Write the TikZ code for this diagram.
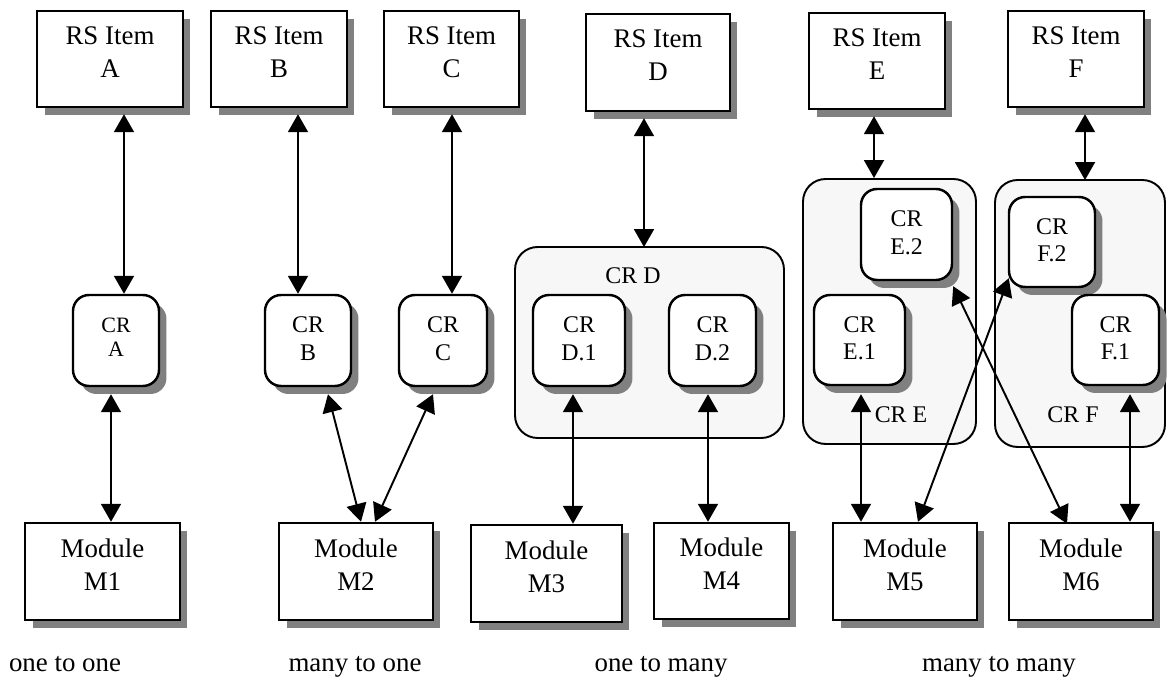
\documentclass[tikz,border=0pt]{standalone}
\usepackage{fontspec}
\setmainfont{Liberation Serif}
\definecolor{shadowgray}{RGB}{128,128,128}
\definecolor{groupfill}{RGB}{247,247,247}
\usetikzlibrary{
    arrows.meta,
    calc,
    shadows
}

\begin{document}
\begin{tikzpicture}[x=0.02cm, y=-0.02cm,
    boxshadow/.style={drop shadow={shadow xshift=0.15cm, shadow yshift=-0.16cm, fill=shadowgray, opacity=1}},
    rsbox/.style={draw, line width=1.4pt, fill=white, boxshadow, align=center, inner sep=1pt,
        minimum height=1.92cm, text depth=0.28cm, font=\fontsize{15.3}{18.7}\selectfont},
    crbox/.style={draw, line width=1.4pt, fill=white, rounded corners=0.32cm, boxshadow, align=center,
        inner sep=1pt, minimum height=1.82cm, text depth=0.08cm, font=\fontsize{13.6}{15.6}\selectfont},
    crgroup/.style={draw, line width=1.1pt, fill=groupfill, rounded corners=0.45cm, inner sep=0pt},
    grouplabel/.style={inner sep=0pt, font=\fontsize{13.6}{15.6}\selectfont},
    link/.style={line width=1.1pt, {Triangle[length=0.36cm,width=0.4cm]}-{Triangle[length=0.36cm,width=0.4cm]}},
    caption/.style={anchor=base, inner sep=0pt, font=\fontsize{15.3}{18.7}\selectfont}
]
    \useasboundingbox (0,0) rectangle (1167,678);

    % CR groups
    \node[crgroup, minimum width=5.38cm, minimum height=3.82cm] (crD) at (649.5,342.5) {};
    \node[crgroup, minimum width=3.46cm, minimum height=5.30cm] (crE) at (889.5,311.5) {};
    \node[crgroup, minimum width=3.40cm, minimum height=5.34cm] (crF) at (1080,313.5) {};
    \node[grouplabel] (crDlbl) at (633,276) {CR D};
    \node[grouplabel] (crElbl) at (901,415) {CR E};
    \node[grouplabel] (crFlbl) at (1073,415) {CR F};

    % RS items
    \node[rsbox, minimum width=2.92cm] (rsA) at (110,59) {RS Item\\A};
    \node[rsbox, minimum width=2.72cm] (rsB) at (279,59) {RS Item\\B};
    \node[rsbox, minimum width=2.70cm] (rsC) at (451.5,59) {RS Item\\C};
    \node[rsbox, minimum width=2.88cm, minimum height=1.94cm] (rsD) at (658,62.5) {RS Item\\D};
    \node[rsbox, minimum width=2.72cm] (rsE) at (877,61) {RS Item\\E};
    \node[rsbox, minimum width=2.72cm] (rsF) at (1076,59) {RS Item\\F};

    % CRs
    \node[crbox, minimum width=1.72cm, text depth=0.14cm, font=\fontsize{12.5}{13.5}\selectfont] (crA) at (116,340.5) {CR\\A};
    \node[crbox, minimum width=1.72cm] (crB) at (308,340.5) {CR\\B};
    \node[crbox, minimum width=1.76cm] (crC) at (443,340.5) {CR\\C};
    \node[crbox, minimum width=1.84cm] (crD1) at (579,340.5) {CR\\D.1};
    \node[crbox, minimum width=1.74cm] (crD2) at (712.5,340.5) {CR\\D.2};
    \node[crbox, minimum width=1.82cm] (crE2) at (906.5,234.5) {CR\\E.2};
    \node[crbox, minimum width=1.82cm, minimum height=1.80cm] (crE1) at (859.5,340) {CR\\E.1};
    \node[crbox, minimum width=1.72cm, minimum height=1.80cm] (crF2) at (1052,242) {CR\\F.2};
    \node[crbox, minimum width=1.74cm, minimum height=1.80cm] (crF1) at (1115.5,340) {CR\\F.1};

    % Modules
    \node[rsbox, minimum width=3.10cm, minimum height=1.94cm] (modM1) at (102.5,571.5) {Module\\M1};
    \node[rsbox, minimum width=3.08cm, minimum height=1.94cm] (modM2) at (356,571.5) {Module\\M2};
    \node[rsbox, minimum width=3.02cm, minimum height=1.94cm] (modM3) at (546.5,573.5) {Module\\M3};
    \node[rsbox, minimum width=2.70cm] (modM4) at (721.5,571) {Module\\M4};
    \node[rsbox, minimum width=2.88cm, minimum height=1.94cm] (modM5) at (905,571.5) {Module\\M5};
    \node[rsbox, minimum width=2.88cm, minimum height=1.94cm] (modM6) at (1081,571.5) {Module\\M6};

    % one to one
    \draw[link] ($(rsA.south)+(14,6)$) -- ($(crA.north)+(8,0)$);
    \draw[link] ($(crA.south)+(-5,7)$) -- ($(modM1.north)+(8.5,0)$);

    % many to one
    \draw[link] ($(rsB.south)+(19,6)$) -- ($(crB.north)+(-10,0)$);
    \draw[link] ($(rsC.south)+(0.5,6)$) -- ($(crC.north)+(9,0)$);
    \draw[link] ($(crB.south)+(20,7)$) -- ($(modM2.north)+(5,0)$);
    \draw[link] ($(crC.south)+(-10,7)$) -- ($(modM2.north)+(19,0)$);

    % one to many
    \draw[link] ($(rsD.south)+(-14,6)$) -- ($(crD.north)+(-5.5,1)$);
    \draw[link] ($(crD1.south)+(-6,7)$) -- ($(modM3.north)+(26.5,0)$);
    \draw[link] ($(crD2.south)+(-4.5,7)$) -- ($(modM4.north)+(-13.5,0)$);

    % many to many
    \draw[link] ($(rsE.south)+(-3,6)$) -- ($(crE.north)+(-15.5,0)$);
    \draw[link] ($(rsF.south)+(9,6)$) -- ($(crF.north)+(5,1)$);
    \draw[link] ($(crE1.south)+(1.5,8)$) -- ($(modM5.north)+(-44,0)$);
    \draw[link] ($(crF1.south)+(14.5,8)$) -- ($(modM6.north)+(49,0)$);
    \draw[link] ($(modM5.north)+(13,0)$) -- ($(crF2.south west)+(1,-10)$);
    \draw[link] ($(modM6.north)+(-14,2)$) -- ($(crE2.south east)+(0,5)$);

    % Captions
    \node[caption] (capA) at (65,672) {one to one};
    \node[caption] (capB) at (355,672) {many to one};
    \node[caption] (capC) at (661,672) {one to many};
    \node[caption] (capD) at (999,672) {many to many};
\end{tikzpicture}
\end{document}
